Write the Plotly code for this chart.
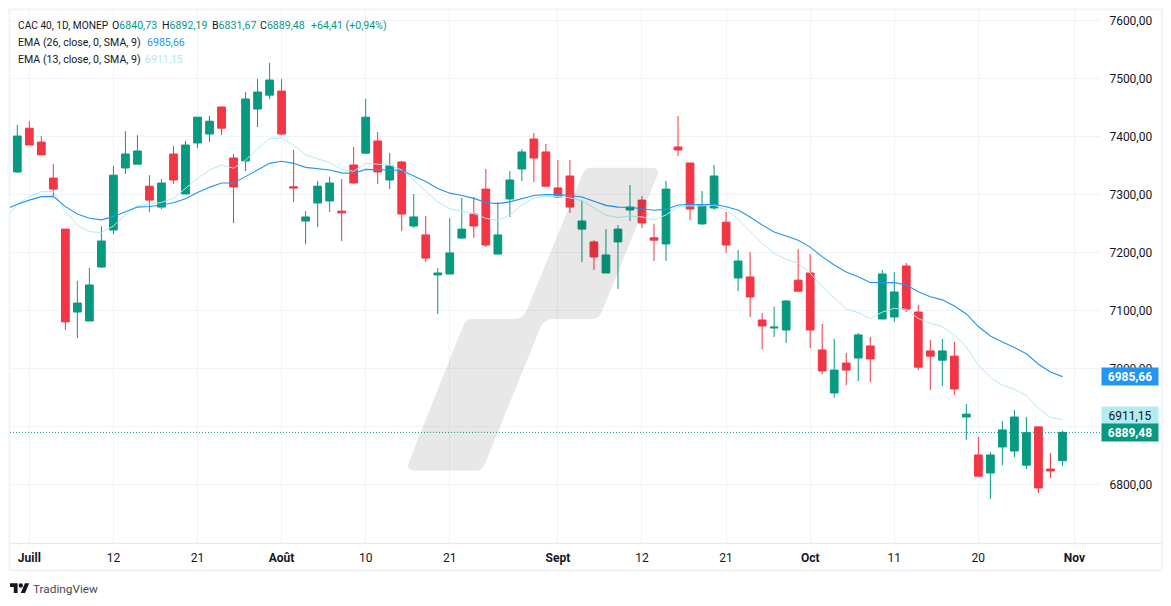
import numpy as np
import plotly.graph_objects as go

W, H = 1171, 606
L, R, T, B = 10, 1100.7, 10, 543

opens = [7338.5, 7414, 7390, 7328, 7240, 7097, 7081.6, 7174.7, 7238.5, 7345.4, 7352, 7314, 7278, 7369.5, 7300.6,
         7388.5, 7404, 7450.6, 7362.6, 7357.5, 7447, 7471, 7478, 7313, 7254, 7285, 7288.5, 7271, 7350.6, 7371,
         7392, 7324.7, 7355.7, 7245.4, 7230, 7161, 7162.6, 7224.7, 7266, 7309, 7197, 7292, 7343.7, 7395.4, 7373,
         7311, 7331.6, 7240, 7218, 7164.4, 7218, 7273, 7290, 7225, 7214.4, 7381.6, 7354, 7249, 7276.4, 7252,
         7155.7, 7157.5, 7083.3, 7069.5, 7066, 7152, 7164.4, 7031.6, 6957.5, 7009, 7017.8, 7038.5, 7085, 7088.5, 7176.4,
         7097, 7030, 7014, 7021, 6916, 6850.6, 6819.5, 6864.4, 6857.5, 6833, 6899, 6826.4, 6840.73]
highs = [7419.5, 7426, 7400.5, 7352, 7240, 7150.6, 7173, 7245, 7349, 7409, 7402, 7333, 7326.4, 7383, 7392,
         7433, 7435, 7450.6, 7369.5, 7476.4, 7499, 7526.4, 7499, 7376.4, 7271, 7323, 7330, 7326.4, 7381.6, 7464.4,
         7407.5, 7371, 7357.5, 7300.6, 7262.6, 7173, 7259, 7293.7, 7295.4, 7343.7, 7286.8, 7340, 7378, 7405.7, 7386.8,
         7359, 7359, 7288.5, 7221, 7240, 7247, 7316, 7297, 7249, 7323, 7435, 7354, 7305.7, 7350.6, 7269.5,
         7204, 7200.6, 7095.4, 7106, 7118, 7205.7, 7197, 7076.4, 7050.6, 7026.4, 7061, 7054, 7169.5, 7166, 7181.6,
         7109, 7049, 7050.6, 7045.4, 6938.5, 6881.6, 6855.7, 6909, 6928, 6916, 6899, 6854, 6892.19]
lows = [7337, 7385, 7368, 7295, 7066, 7052, 7081.6, 7173, 7231.6, 7335, 7352, 7269.5, 7274.7, 7318, 7300.6,
        7380, 7390, 7402, 7250.6, 7340, 7416, 7464.4, 7402, 7287, 7214, 7243.6, 7269.5, 7219.5, 7318, 7369.5,
        7318, 7309, 7236.8, 7242, 7183, 7093.7, 7162.6, 7223, 7224.7, 7209, 7197, 7261, 7323, 7321, 7314,
        7293.7, 7268, 7183, 7169.5, 7164.4, 7137, 7254, 7242, 7185, 7185, 7366, 7255.7, 7247, 7273, 7199,
        7133, 7088.5, 7033, 7054, 7043.7, 7133, 7035, 6990, 6949, 6971, 6978, 6976, 7085, 7080, 7097,
        6997, 6962.6, 6969.5, 6954, 6876.4, 6814, 6774.7, 6833, 6847, 6826.4, 6785, 6811, 6831.67]
closes = [7400.5, 7385, 7368, 7309, 7080, 7112.6, 7143.7, 7219.5, 7333, 7369.5, 7374.7, 7290, 7319.5, 7324.7, 7385,
          7433, 7426, 7414, 7312.6, 7464.4, 7476.4, 7497, 7404, 7311, 7261, 7314, 7319.5, 7268, 7319.5, 7433,
          7338.5, 7349, 7266, 7261, 7190, 7164.4, 7199, 7240, 7245.4, 7212.6, 7230, 7324.7, 7373, 7362.6, 7314,
          7295.4, 7278, 7254, 7192, 7195.4, 7240, 7278, 7250.6, 7221, 7309, 7376.4, 7274.7, 7281.6, 7331.6, 7212.6,
          7185, 7123, 7073, 7071, 7116, 7133, 7066, 6995.4, 6997, 6997, 7057.5, 7016, 7162.6, 7131.6, 7102,
          7002, 7021, 7030, 6964.4, 6921, 6814, 6850.6, 6893.7, 6916, 6889, 6793.7, 6823, 6889.48]

# both averages start one session before the first visible candle
ema26 = [7274, 7283, 7290, 7296, 7296.5, 7278.7, 7266, 7258.6, 7256, 7261.5, 7270, 7278, 7279, 7281.6, 7285.6,
         7292.5, 7303, 7312, 7319.5, 7319.5, 7330.5, 7342, 7353.4, 7357, 7353.4, 7346.5, 7344, 7342, 7337, 7336,
         7343, 7343, 7342, 7341, 7332, 7322, 7310, 7302, 7298, 7293, 7286, 7284, 7287, 7292.5, 7298,
         7299.4, 7299.4, 7298, 7295.4, 7288, 7281, 7278, 7277.6, 7275, 7272.4, 7274, 7281.6, 7282.8, 7282, 7283,
         7278.7, 7273, 7261, 7247, 7235, 7228, 7220.7, 7209, 7192.5, 7178, 7166, 7158, 7148, 7147.7, 7147.7,
         7144, 7132, 7123.5, 7118, 7107.5, 7093.7, 7072, 7055.7, 7045.4, 7036, 7025, 7007, 6993.7, 6985.66]
ema13 = [7257, 7283, 7296, 7304.6, 7305, 7271, 7247, 7235.6, 7234, 7245.4, 7264.4, 7280.5, 7283, 7286, 7293,
         7310, 7327.6, 7342, 7350.6, 7345, 7359, 7378, 7396.5, 7397, 7385, 7368, 7361, 7354.6, 7343, 7339.7,
         7353.4, 7351.7, 7350.6, 7342, 7324.7, 7305.7, 7287, 7275, 7271, 7267, 7258.6, 7255, 7264.4, 7281.6, 7294,
         7296.5, 7296.5, 7294, 7289, 7276, 7264, 7260, 7262.6, 7261, 7256, 7264.4, 7278.7, 7280, 7280, 7281.6,
         7273, 7257.5, 7235.6, 7215.5, 7198, 7188, 7181, 7164, 7141, 7121, 7102.3, 7096, 7085.6, 7097, 7103.4,
         7101.7, 7086, 7077.6, 7071.8, 7057.5, 7037, 7005.7, 6984, 6971, 6963.8, 6953, 6931, 6915.5, 6911.15]

price_ticks = [6800, 6900, 7000, 7100, 7200, 7300, 7400, 7500, 7600]
price_labels = ['6800,00', '', '7000,00', '7100,00', '7200,00', '7300,00', '7400,00', '7500,00', '7600,00']
day_ticks = [1, 8, 15, 22, 29, 36, 45, 52, 59, 66, 73, 80, 88]
day_labels = ['<b>Juill</b>', '12', '21', '<b>Août</b>', '10', '21', '<b>Sept</b>', '12', '21', '<b>Oct</b>', '11', '20', '<b>Nov</b>']

GREEN, RED, BLUE, CYAN = '#089981', '#F23645', '#2196F3', '#B2EBF2'
GRID = '#F0F3FA'
TXT = '#131722'
FONT = 'Roboto'


def px(x):
    return (x - L) / (R - L)


def py(y):
    return (B - y) / (B - T)


def path(points):
    # points: M/L/Q commands given in page pixels
    out = []
    for cmd, *xy in points:
        coords = ' '.join(f'{px(xy[i]):.5f},{py(xy[i + 1]):.5f}' for i in range(0, len(xy), 2))
        out.append(f'{cmd}{coords}')
    return ' '.join(out) + ' Z'


def comma(v):
    return f'{v:.2f}'.replace('.', ',')


idx = np.arange(len(closes))
fig = go.Figure()
fig.add_trace(go.Candlestick(
    x=idx, open=opens, high=highs, low=lows, close=closes,
    increasing=dict(line=dict(color=GREEN, width=1), fillcolor=GREEN),
    decreasing=dict(line=dict(color=RED, width=1), fillcolor=RED),
    whiskerwidth=0, showlegend=False))
fig.add_trace(go.Scatter(x=np.arange(-1, len(closes)), y=ema13, mode='lines',
                         line=dict(color=CYAN, width=1), showlegend=False))
fig.add_trace(go.Scatter(x=np.arange(-1, len(closes)), y=ema26, mode='lines',
                         line=dict(color=BLUE, width=1.1), showlegend=False))

# big logo behind the chart, darkens whatever it covers
watermark = path([
    ('M', 590, 167.7), ('L', 651.7, 167.7), ('Q', 659.5, 167.7, 657.3, 175),
    ('L', 601.7, 311.7), ('Q', 598.5, 319, 593.3, 319), ('L', 553.3, 319), ('Q', 544, 319, 540, 328.3),
    ('L', 485, 463.3), ('Q', 482, 470.7, 476.7, 470.7), ('L', 415, 470.7), ('Q', 406, 470.7, 408.3, 463.3),
    ('L', 463.3, 325), ('Q', 465.5, 319, 471.7, 319), ('L', 513.3, 319), ('Q', 523, 319, 526.7, 310),
    ('L', 582.7, 173.3), ('Q', 585, 167.7, 590, 167.7)])
logo_t = path([('M', 10, 583.3), ('L', 17.6, 583.3), ('L', 17.6, 593), ('L', 13.8, 593), ('L', 13.8, 587.1), ('L', 10, 587.1)])
logo_v = path([('M', 20.8, 593), ('L', 25.1, 593), ('L', 29.2, 583.3), ('L', 24.9, 583.3)])

shapes = [
    dict(type='path', path=watermark, xref='paper', yref='paper', fillcolor='rgba(0,0,0,0.09)', line_width=0, layer='above'),
    dict(type='line', xref='paper', yref='y', x0=0, x1=1, y0=closes[-1], y1=closes[-1],
         line=dict(color=GREEN, width=1, dash='1px,2px'), layer='above'),
    dict(type='rect', xref='paper', yref='paper', x0=px(9.5), x1=px(1161.5), y0=py(570.5), y1=py(9.5),
         line=dict(color=GRID, width=2), layer='below'),
    dict(type='line', xref='paper', yref='paper', x0=px(10), x1=px(1161), y0=py(543.3), y1=py(543.3),
         line=dict(color='#E0E3EB', width=1)),
    dict(type='path', path=logo_t, xref='paper', yref='paper', fillcolor='#131722', line_width=0),
    dict(type='path', path=logo_v, xref='paper', yref='paper', fillcolor='#131722', line_width=0),
    dict(type='circle', xref='paper', yref='paper', x0=px(18.6), x1=px(23), y0=py(587.7), y1=py(583.3),
         fillcolor='#131722', line_width=0),
]


def head(x, y, html, size=10.6, color=TXT):
    return dict(x=px(x), y=py(y), xref='paper', yref='paper', xanchor='left', yanchor='middle', text=html,
                showarrow=False, align='left', borderpad=0, borderwidth=0,
                font=dict(family=FONT, size=size, color=color))


def num(color, s):
    return f'<span style="color:{color}">{s}</span>'


def tag(value, bg, fg, yshift=0):
    txt = comma(value)
    return dict(x=1, y=value, xref='paper', yref='y', xanchor='left', yanchor='middle', yshift=yshift,
                text=f'<b>{txt}</b>' if fg == 'white' else txt,
                showarrow=False, bgcolor=bg, width=56, height=17, borderpad=0, align='center',
                font=dict(family=FONT, size=12, color=fg))


annotations = [
    head(18, 25, 'CAC 40, 1D, MONEP', size=10.2),
    head(112, 25, 'O' + num(GREEN, comma(opens[-1]))),
    head(162, 25, 'H' + num(GREEN, comma(highs[-1]))),
    head(212, 25, 'B' + num(GREEN, comma(lows[-1]))),
    head(260, 25, 'C' + num(GREEN, comma(closes[-1]))),
    head(311, 25, '+64,41 (+0,94%)', color=GREEN),
    head(18, 42, 'EMA (26, close, 0, SMA, 9)'),
    head(146.7, 42, comma(ema26[-1]), color=BLUE),
    head(18, 59, 'EMA (13, close, 0, SMA, 9)'),
    head(144.5, 59, comma(ema13[-1]), color=CYAN),
    tag(ema26[-1], BLUE, 'white', 0.5),
    tag(ema13[-1], CYAN, TXT, 4.5),
    tag(closes[-1], GREEN, 'white', 0),
    head(33, 588.5, 'TradingView', size=11.8, color='#4A4A4A'),
]

fig.update_layout(
    width=W, height=H,
    margin=dict(l=L, r=W - R, t=T, b=H - B, pad=0),
    paper_bgcolor='white', plot_bgcolor='white',
    font=dict(family=FONT, size=12, color=TXT),
    separators=', ',
    boxgap=0.08,
    showlegend=False,
    hovermode=False,
    shapes=shapes,
    annotations=annotations,
    xaxis=dict(range=[(L - 17.3) / 12.01, (R - 17.3) / 12.01], tickmode='array', tickvals=day_ticks, ticktext=day_labels,
               rangeslider=dict(visible=False), showgrid=True, gridcolor=GRID, gridwidth=1, zeroline=False, showline=False,
               ticks='outside', ticklen=4, tickcolor='rgba(0,0,0,0)', tickfont=dict(family=FONT, size=12, color=TXT)),
    yaxis=dict(range=[6698.8, 7617.8], side='right', tickmode='array', tickvals=price_ticks, ticktext=price_labels,
               showgrid=True, gridcolor=GRID, gridwidth=1, zeroline=False, showline=False,
               ticks='outside', ticklen=5, tickcolor='rgba(0,0,0,0)', tickfont=dict(family=FONT, size=12, color=TXT)),
)

fig.write_html('out.html', config=dict(displayModeBar=False),
               post_script="document.body.style.margin='0';")
